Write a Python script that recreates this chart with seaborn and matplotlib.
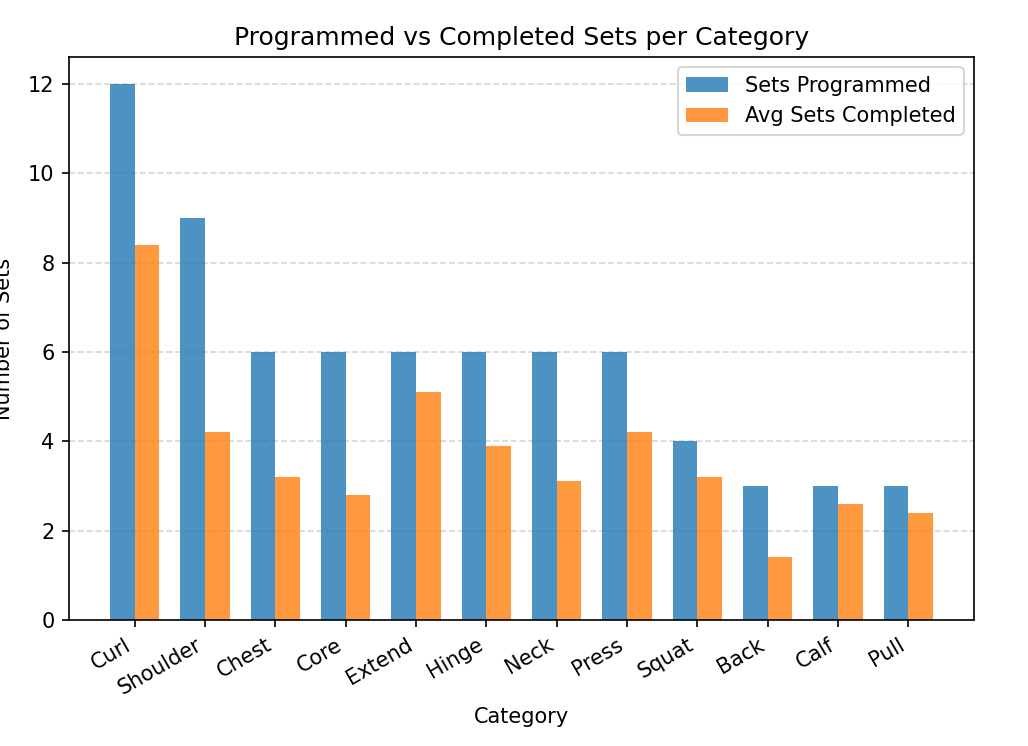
import matplotlib
matplotlib.use("Agg")
import matplotlib.pyplot as plt
import seaborn as sns
import pandas as pd

categories = ["Curl", "Shoulder", "Chest", "Core", "Extend", "Hinge", "Neck",
              "Press", "Squat", "Back", "Calf", "Pull"]
sets_programmed = [12, 9, 6, 6, 6, 6, 6, 6, 4, 3, 3, 3]
avg_sets_completed = [8.4, 4.2, 3.2, 2.8, 5.1, 3.9, 3.1, 4.2, 3.2, 1.4, 2.6, 2.4]
series_names = ["Sets Programmed", "Avg Sets Completed"]
colors = ["#1f77b4", "#ff7f0e"]

df = pd.DataFrame({
    "Category": categories * 2,
    "Series": [series_names[0]] * len(categories) + [series_names[1]] * len(categories),
    "Sets": sets_programmed + avg_sets_completed,
})

fig = plt.figure(figsize=(1028 / 150, 746 / 150), dpi=150)
ax = fig.add_axes([69 / 1028, 1 - 620 / 746, (974 - 69) / 1028, (620 - 57) / 746])

sns.barplot(data=df, x="Category", y="Sets", hue="Series", order=categories,
            hue_order=series_names, palette=colors, saturation=1, width=0.7,
            alpha=0.8, linewidth=0, ax=ax, errorbar=None)

ax.set_xlim(-0.935, len(categories) - 1 + 0.935)
ax.set_ylim(0, 12.6)
ax.grid(axis="y", linestyle="--", alpha=0.5)
ax.set_axisbelow(True)
ax.set_title("Programmed vs Completed Sets per Category", fontsize=12)
ax.set_xlabel("Category")
ax.set_ylabel("Number of Sets")
ax.yaxis.set_label_coords(-0.061, 0.5)
plt.setp(ax.get_xticklabels(), rotation=30, ha="right")
sns.move_legend(ax, "upper right", title=None)

fig.savefig("out.png", dpi=150)
